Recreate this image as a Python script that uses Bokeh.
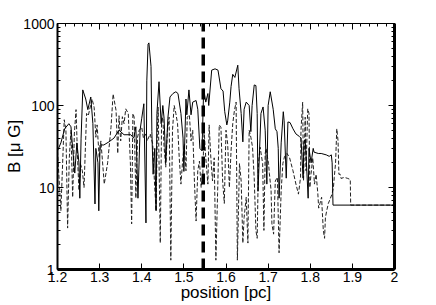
from bokeh.plotting import figure
from bokeh.models import LinearAxis, LogAxis, FixedTicker, Range1d, CustomJSTickFormatter
from bokeh.embed import file_html
from bokeh.resources import INLINE

# ---- data (position [pc], B [micro G]) ----
pos_solid = [1.200, 1.208, 1.217, 1.227, 1.232, 1.236, 1.241, 1.246, 1.251, 1.253,
             1.256, 1.260, 1.267, 1.272, 1.279, 1.284, 1.289, 1.291, 1.296, 1.298,
             1.301, 1.310, 1.322, 1.334, 1.346, 1.358, 1.365, 1.374, 1.381, 1.386,
             1.391, 1.396, 1.400, 1.405, 1.410, 1.412, 1.415, 1.417, 1.422, 1.424,
             1.427, 1.431, 1.434, 1.436, 1.441, 1.446, 1.450, 1.453, 1.457, 1.462,
             1.467, 1.474, 1.481, 1.486, 1.493, 1.498, 1.500, 1.505, 1.507, 1.512,
             1.517, 1.521, 1.529, 1.533, 1.538, 1.543, 1.547, 1.552, 1.557, 1.559,
             1.566, 1.574, 1.581, 1.588, 1.593, 1.597, 1.602, 1.604, 1.609, 1.612,
             1.616, 1.621, 1.628, 1.631, 1.636, 1.640, 1.643, 1.648, 1.655, 1.659,
             1.662, 1.667, 1.671, 1.674, 1.676, 1.683, 1.688, 1.693, 1.697, 1.700,
             1.705, 1.712, 1.717, 1.721, 1.724, 1.726, 1.731, 1.736, 1.738, 1.743,
             1.747, 1.752, 1.759, 1.766, 1.774, 1.778, 1.783, 1.785, 1.788, 1.790,
             1.795, 1.797, 1.802, 1.807, 1.809, 1.819, 1.826, 1.838, 1.845, 1.850,
             1.852, 1.854, 2.000]
b_solid = [28, 35, 52, 60, 55, 30, 15, 35, 20, 7.4,
           40, 155, 120, 89, 127, 60, 6.3, 30, 20, 5.2,
           33, 33, 36, 40, 50, 44, 44, 44, 40, 55,
           7.4, 50, 70, 105, 3.7, 200, 560, 580, 300, 48,
           14.5, 30, 5.2, 80, 195, 60, 100, 70, 20, 70,
           127, 140, 147, 140, 80, 40, 15.7, 120, 77, 155,
           77, 110, 115, 90, 30, 28, 160, 110, 140, 100,
           270, 280, 270, 160, 150, 84, 58, 65, 110, 170,
           240, 220, 310, 160, 80, 36, 90, 110, 100, 48,
           100, 178, 175, 80, 9, 80, 96, 50, 11, 100,
           147, 90, 52, 48, 30, 7.4, 35, 84, 65, 13,
           63, 62, 52, 45, 42, 40, 13, 36, 38, 25,
           7.4, 30, 20, 30, 27, 26, 26, 25, 24, 25,
           20, 6.1, 6.1]

pos_dashed = [1.200, 1.208, 1.216, 1.220, 1.224, 1.228, 1.232, 1.236, 1.240, 1.244,
              1.248, 1.251, 1.255, 1.259, 1.263, 1.269, 1.273, 1.282, 1.287, 1.291,
              1.294, 1.299, 1.303, 1.311, 1.319, 1.327, 1.332, 1.339, 1.343, 1.346,
              1.350, 1.354, 1.358, 1.362, 1.368, 1.373, 1.376, 1.379, 1.382, 1.386,
              1.390, 1.394, 1.400, 1.404, 1.410, 1.413, 1.420, 1.426, 1.430, 1.434,
              1.437, 1.439, 1.444, 1.447, 1.450, 1.453, 1.457, 1.461, 1.465, 1.469,
              1.473, 1.477, 1.481, 1.485, 1.489, 1.493, 1.497, 1.501, 1.505, 1.508,
              1.513, 1.517, 1.521, 1.525, 1.529, 1.533, 1.537, 1.541, 1.545, 1.548,
              1.552, 1.557, 1.560, 1.564, 1.568, 1.572, 1.576, 1.580, 1.584, 1.588,
              1.592, 1.596, 1.600, 1.604, 1.608, 1.612, 1.616, 1.620, 1.624, 1.627,
              1.632, 1.636, 1.640, 1.643, 1.648, 1.652, 1.655, 1.659, 1.663, 1.667,
              1.671, 1.674, 1.677, 1.681, 1.687, 1.690, 1.693, 1.695, 1.701, 1.703,
              1.707, 1.709, 1.713, 1.717, 1.722, 1.726, 1.731, 1.735, 1.739, 1.745,
              1.751, 1.759, 1.766, 1.772, 1.777, 1.778, 1.782, 1.784, 1.788, 1.790,
              1.794, 1.797, 1.799, 1.802, 1.806, 1.810, 1.814, 1.818, 1.820, 1.823,
              1.827, 1.828, 1.831, 1.834, 1.836, 1.839, 1.843, 1.847, 1.852, 1.855,
              1.857, 1.860, 1.863, 1.866, 1.868, 1.871, 1.873, 1.881, 1.889, 1.895,
              1.896, 2.000]
b_dashed = [28, 5.2, 67, 50, 3.2, 23, 50, 7.6, 45, 89,
            20, 9.2, 19, 16, 10, 80, 75, 120, 95, 41,
            58, 23, 37, 11, 20, 54, 138, 87, 26, 75,
            37, 73, 60, 91, 80, 20, 3.6, 80, 72, 7.4,
            41, 50, 54, 40, 45, 37, 45, 34, 12, 5.2,
            50, 95, 2.1, 60, 72, 31, 17.7, 50, 72, 1.3,
            50, 100, 80, 60, 23, 11, 21, 34, 16, 72,
            77, 37, 50, 12, 3.9, 16, 21, 10, 14.8, 50,
            23, 11, 58, 23, 12, 23, 1.3, 8.4, 58, 54,
            12, 6.4, 50, 34, 10, 28, 60, 87, 110, 1.3,
            19.6, 12, 2.1, 4.3, 7.6, 2.1, 50, 41, 31, 13,
            3, 2.4, 19.6, 31, 19.6, 3, 26, 30, 19.6, 14.8,
            9.2, 3.6, 2.7, 12, 13.3, 1.6, 9.2, 19.6, 24, 26,
            23, 16, 11, 8.3, 13.3, 50, 110, 12, 72, 16,
            91, 80, 10, 14.8, 23, 11, 14.5, 8.4, 5.6, 6.4,
            7.6, 5.8, 3, 2.4, 4.3, 5.2, 6.4, 7.2, 8.4, 10,
            13.3, 19.6, 52, 37, 14.5, 14.5, 12.9, 13.3, 12.9, 12.5,
            6.1, 6.1]

marker_pos = [1.546, 1.546]
marker_b = [1, 1000]

x_ticks = [1.2, 1.3, 1.4, 1.5, 1.6, 1.7, 1.8, 1.9, 2.0]
x_minor = [1.2 + 0.02 * i for i in range(41)]
y_ticks = [1, 10, 100, 1000]
y_minor = [m * d for d in (1, 10, 100) for m in range(2, 10)]

FONT = "Liberation Sans"

p = figure(width=436, height=305, y_axis_type="log",
           x_range=Range1d(1.2, 2.0), y_range=Range1d(1, 1000),
           output_backend="svg", toolbar_location=None,
           min_border_left=57, min_border_right=42, min_border_top=23, min_border_bottom=36)
p.grid.visible = False
p.background_fill_color = "white"
p.border_fill_color = "white"
p.outline_line_color = "black"
p.outline_line_width = 1

xfmt = CustomJSTickFormatter(code="var s = tick.toFixed(1); return s.endsWith('.0') ? s.slice(0, -2) : s;")
yfmt = CustomJSTickFormatter(code="return Math.round(tick).toString();")

def style(ax, labels=True):
    ax.major_tick_in = 6
    ax.major_tick_out = 0
    ax.minor_tick_in = 3
    ax.minor_tick_out = 0
    ax.major_tick_line_color = "black"
    ax.minor_tick_line_color = "black"
    ax.axis_line_color = "black"
    ax.major_label_text_font = FONT
    ax.major_label_text_font_size = "14px"
    ax.major_label_text_color = "black"
    ax.axis_label_text_font = FONT
    ax.axis_label_text_font_size = "17px"
    ax.axis_label_text_font_style = "normal"
    ax.axis_label_text_color = "black"
    if not labels:
        ax.major_label_text_color = None
        ax.major_label_text_alpha = 0
        ax.major_label_standoff = 0

xa = p.xaxis[0]
xa.ticker = FixedTicker(ticks=x_ticks, minor_ticks=[])
xa.formatter = xfmt
xa.axis_label = "position [pc]"
style(xa)
xa.axis_line_width = 3
xa.major_label_standoff = 2
xa.axis_label_standoff = -2

ya = p.yaxis[0]
ya.ticker = FixedTicker(ticks=y_ticks, minor_ticks=y_minor)
ya.formatter = yfmt
ya.axis_label = "B [μ G]"
style(ya)
ya.axis_line_width = 2
ya.major_label_standoff = 3
ya.axis_label_standoff = -4

top = LinearAxis(ticker=FixedTicker(ticks=x_ticks, minor_ticks=x_minor), formatter=xfmt)
style(top, labels=False)
top.axis_line_width = 1
p.add_layout(top, "above")

right = LogAxis(ticker=FixedTicker(ticks=y_ticks, minor_ticks=y_minor), formatter=yfmt)
style(right, labels=False)
right.axis_line_width = 3
p.add_layout(right, "right")

p.line(pos_dashed, b_dashed, line_color="#222222", line_width=1, line_dash="4 2")
p.line(pos_solid, b_solid, line_color="black", line_width=1)
p.line(marker_pos, marker_b, line_color="black", line_width=3.5, line_dash="11 6")

open("out.html", "w").write(file_html(p, INLINE))
